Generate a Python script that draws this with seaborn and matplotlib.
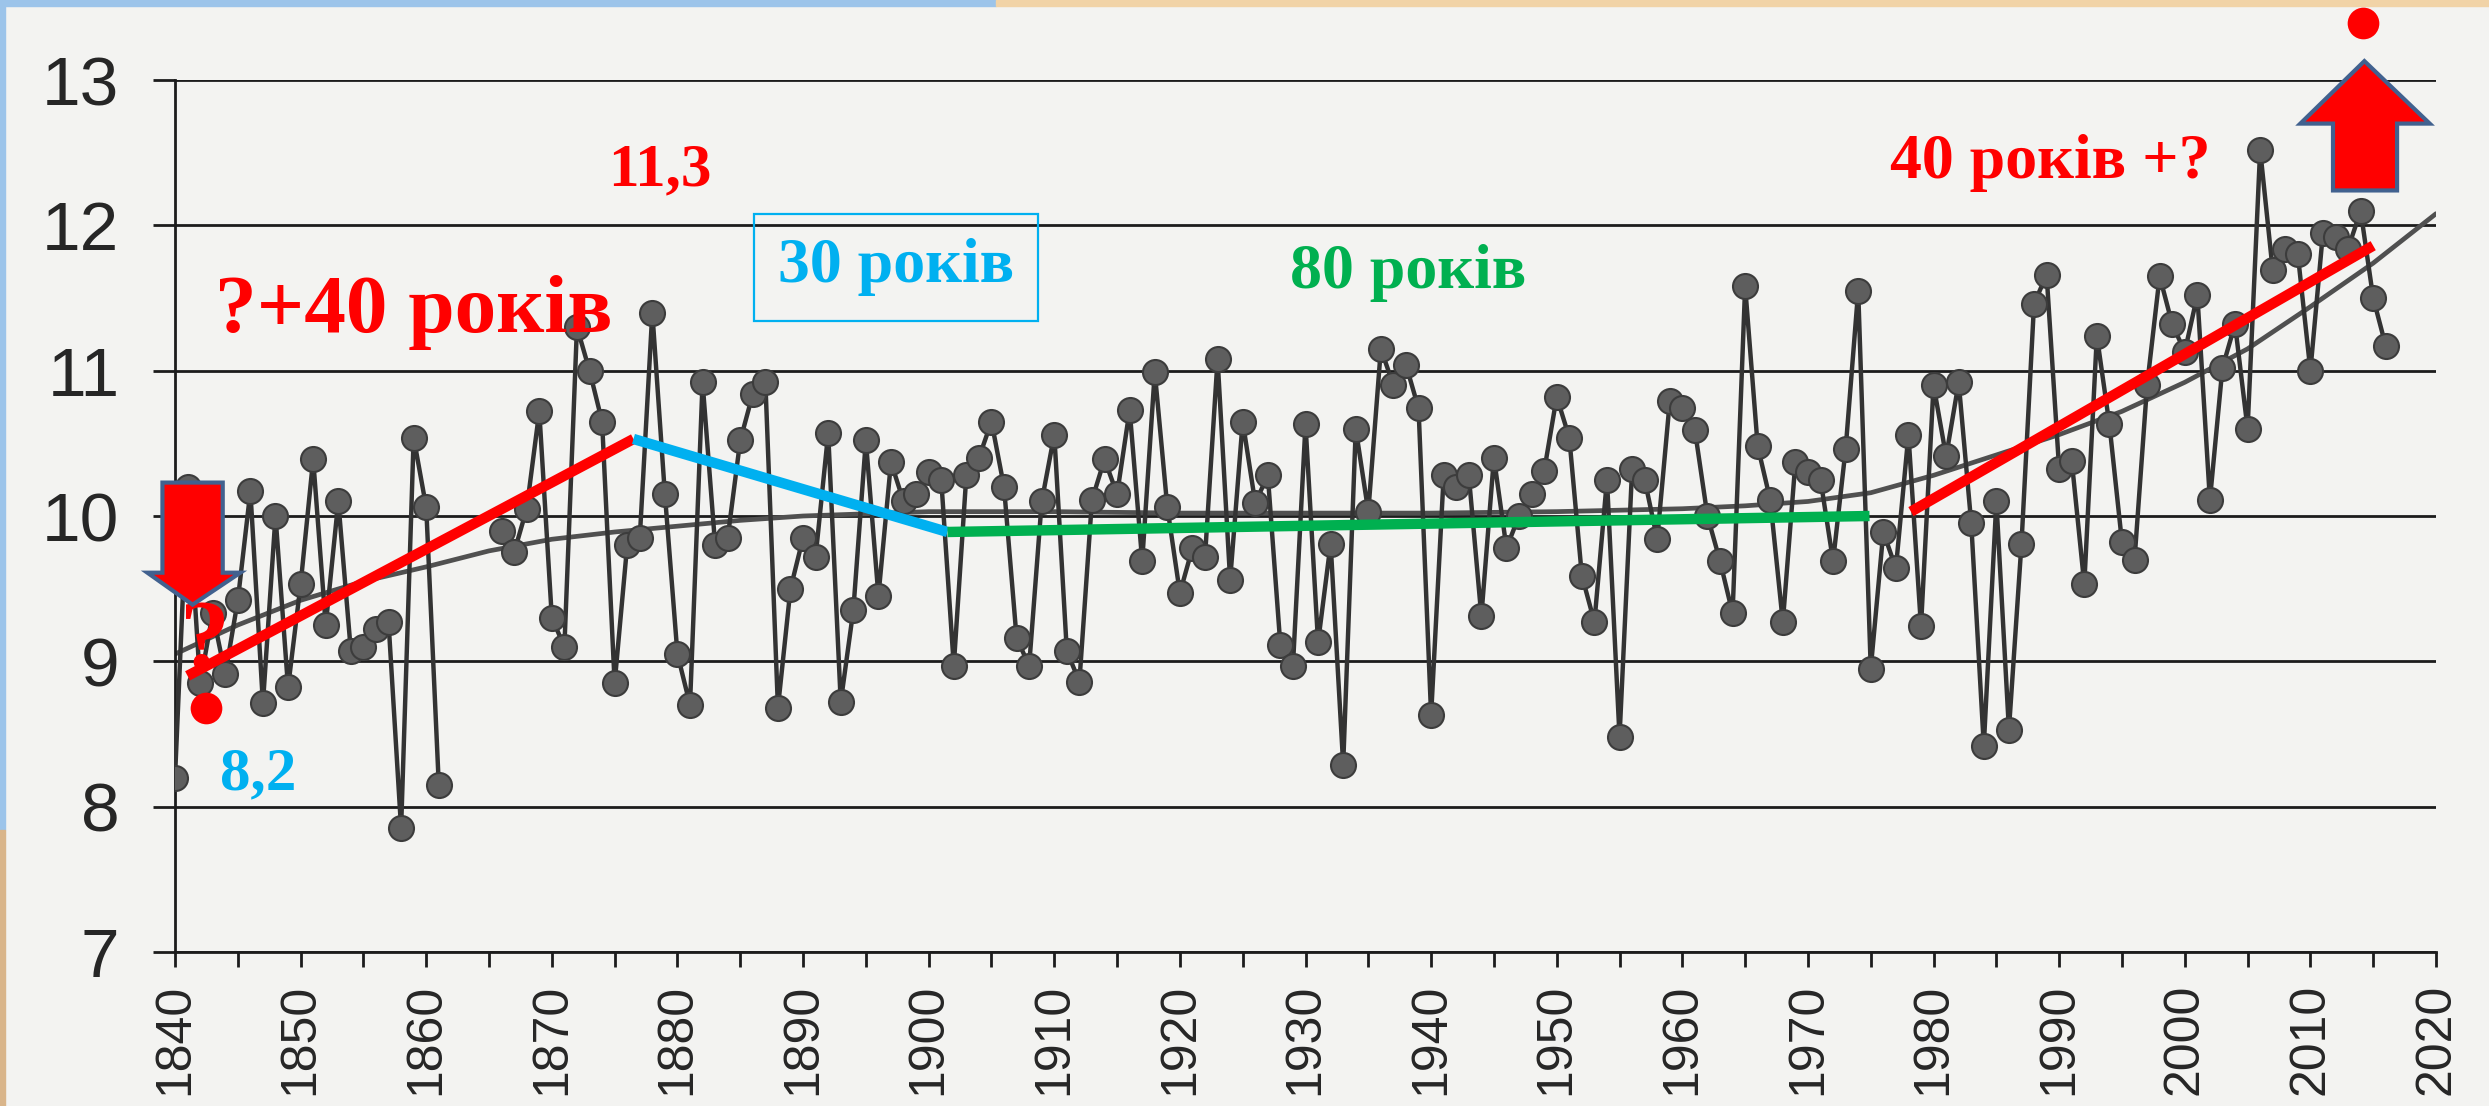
import numpy as np
import pandas as pd
import matplotlib
matplotlib.use("Agg")
import matplotlib.pyplot as plt
from matplotlib.patches import Polygon, Rectangle
import seaborn as sns

# ---------------- data ----------------
years = list(range(1840, 2017))
nan = float("nan")
temps = [
    8.20, 10.20, 8.85, 9.33, 8.91, 9.42, 10.17, 8.71, 10.00, 8.82,      # 1840s
    9.53, 10.39, 9.25, 10.10, 9.07, 9.10, 9.22, 9.27, 7.85, 10.54,     # 1850s
    10.06, 8.15, nan, nan, nan, nan, 9.90, 9.75, 10.05, 10.72,         # 1860s
    9.30, 9.10, 11.30, 11.00, 10.65, 8.85, 9.80, 9.85, 11.40, 10.15,   # 1870s
    9.05, 8.70, 10.92, 9.80, 9.85, 10.52, 10.84, 10.92, 8.68, 9.50,    # 1880s
    9.85, 9.72, 10.57, 8.72, 9.35, 10.52, 9.45, 10.37, 10.10, 10.15,   # 1890s
    10.30, 10.25, 8.97, 10.28, 10.40, 10.65, 10.20, 9.16, 8.97, 10.10, # 1900s
    10.56, 9.07, 8.86, 10.11, 10.39, 10.15, 10.73, 9.69, 10.99, 10.06, # 1910s
    9.47, 9.78, 9.72, 11.08, 9.56, 10.65, 10.09, 10.28, 9.11, 8.97,    # 1920s
    10.63, 9.13, 9.81, 8.29, 10.60, 10.03, 11.15, 10.90, 11.04, 10.74, # 1930s
    8.63, 10.28, 10.20, 10.28, 9.31, 10.40, 9.78, 10.00, 10.15, 10.31, # 1940s
    10.82, 10.54, 9.59, 9.27, 10.25, 8.48, 10.32, 10.25, 9.84, 10.79,  # 1950s
    10.74, 10.59, 10.00, 9.69, 9.33, 11.58, 10.48, 10.11, 9.27, 10.37, # 1960s
    10.30, 10.25, 9.69, 10.46, 11.55, 8.95, 9.89, 9.64, 10.56, 9.24,   # 1970s
    10.90, 10.41, 10.92, 9.95, 8.42, 10.10, 8.53, 9.81, 11.46, 11.66,  # 1980s
    10.32, 10.38, 9.53, 11.24, 10.63, 9.82, 9.70, 10.90, 11.65, 11.32, # 1990s
    11.13, 11.52, 10.11, 11.02, 11.32, 10.60, 12.52, 11.69, 11.84, 11.80, # 2000s
    11.00, 11.95, 11.92, 11.84, 12.10, 11.50, 11.17,                   # 2010s
]
gap_start = 1862  # record is interrupted 1862-1865

trend_years = [1840, 1845, 1850, 1855, 1860, 1865, 1870, 1875, 1880, 1885,
               1890, 1900, 1910, 1920, 1930, 1940, 1950, 1960, 1965, 1970,
               1975, 1980, 1985, 1990, 1995, 2000, 2005, 2010, 2015, 2020]
trend_vals = [9.05, 9.25, 9.42, 9.55, 9.65, 9.76, 9.84, 9.89, 9.93, 9.97,
              10.00, 10.03, 10.03, 10.02, 10.02, 10.02, 10.03, 10.05, 10.07, 10.10,
              10.16, 10.28, 10.42, 10.56, 10.72, 10.92, 11.15, 11.44, 11.74, 12.08]

# hand-drawn period segments
seg1_x, seg1_y = [1841.0, 1876.5], [8.90, 10.53]      # red
seg2_x, seg2_y = [1876.5, 1901.5], [10.53, 9.89]      # blue
seg3_x, seg3_y = [1901.5, 1974.9], [9.89, 10.00]      # green
seg4_x, seg4_y = [1978.2, 2015.0], [10.03, 11.86]     # red

yticks = [7, 8, 9, 10, 11, 12, 13]
xticks = list(range(1840, 2021, 10))

# ---------------- style ----------------
sns.set_theme(style="white")
plt.rcParams["font.family"] = ["Liberation Sans", "DejaVu Sans"]

W, H = 2489, 1106
fig = plt.figure(figsize=(W / 100, H / 100), dpi=100)
paper = "#f3f3f1"
fig.patch.set_facecolor(paper)

# thin coloured frame strips of the slide
fig.add_artist(Rectangle((0, 1 - 6 / H), 0.40, 6 / H, transform=fig.transFigure,
                         color="#9cc4ea", zorder=0))
fig.add_artist(Rectangle((0.40, 1 - 6 / H), 0.60, 6 / H, transform=fig.transFigure,
                         color="#f1d3a7", zorder=0))
fig.add_artist(Rectangle((0, 0.25), 5 / W, 0.75, transform=fig.transFigure,
                         color="#9cc4ea", zorder=0))
fig.add_artist(Rectangle((0, 0), 5 / W, 0.25, transform=fig.transFigure,
                         color="#d9b58a", zorder=0))

ax = fig.add_axes([175 / W, 1 - 952 / H, (2436 - 175) / W, (952 - 80) / H])
ax.set_facecolor(paper)

df = pd.DataFrame({"year": years, "temp": temps})
df["segment"] = np.where(df["year"] < gap_start, 0, 1)
df = df.dropna()

# trend curve
sns.lineplot(x=trend_years, y=trend_vals, color="#505050", lw=3.4, ax=ax, zorder=2)

# annual values
sns.lineplot(data=df, x="year", y="temp", units="segment", estimator=None,
             color="#333333", lw=3.2, marker="o", markersize=18,
             markerfacecolor="#5e5e5e", markeredgecolor="#3c3c3c",
             markeredgewidth=1.5, ax=ax, zorder=3)

# period segments
ax.plot(seg1_x, seg1_y, color="#ff0000", lw=7.5, solid_capstyle="butt", zorder=5)
ax.plot(seg2_x, seg2_y, color="#00b0f0", lw=7.5, solid_capstyle="butt", zorder=5)
ax.plot(seg3_x, seg3_y, color="#00b050", lw=7.5, solid_capstyle="butt", zorder=5)
ax.plot(seg4_x, seg4_y, color="#ff0000", lw=7.5, solid_capstyle="butt", zorder=5)

ax.set_xlim(1840, 2020)
ax.set_ylim(7, 13)
ax.set_xticks(xticks)
ax.set_xticks(list(range(1845, 2020, 10)), minor=True)
ax.set_yticks(yticks)
ax.set_yticklabels([str(v) for v in yticks])
ax.set_xticklabels([str(v) for v in xticks], rotation=90)
ax.set_xlabel("")
ax.set_ylabel("")

ax.yaxis.grid(True, color="#1c1c1c", lw=2.0)
ax.xaxis.grid(False)
ax.set_axisbelow(True)
for s in ["top", "right"]:
    ax.spines[s].set_visible(False)
for s in ["left", "bottom"]:
    ax.spines[s].set_color("#1c1c1c")
    ax.spines[s].set_linewidth(2.0)

ax.tick_params(axis="y", which="major", direction="out", length=16, width=2,
               color="#1c1c1c", pad=24, labelsize=50, labelcolor="#262626", left=True)
ax.tick_params(axis="x", which="both", direction="out", length=11, width=2,
               color="#1c1c1c", pad=12, labelsize=36, labelcolor="#262626", bottom=True)

# ---------------- annotations ----------------
serif = dict(family="Liberation Serif", weight="bold")
ax.text(1859.0, 11.40, "?+40 років", color="#ff0000", fontsize=60,
        ha="center", va="center", zorder=6, **serif)
ax.text(1878.6, 12.38, "11,3", color="#ff0000", fontsize=44,
        ha="center", va="center", zorder=6, **serif)
ax.text(1897.4, 11.71, "30 років", color="#00b0f0", fontsize=46,
        ha="center", va="center", zorder=6,
        bbox=dict(boxstyle="square,pad=0.38", fc="none", ec="#00b0f0", lw=1.6), **serif)
ax.text(1938.2, 11.67, "80 років", color="#00b050", fontsize=46,
        ha="center", va="center", zorder=6, **serif)
ax.text(1989.3, 12.43, "40 років +?", color="#ff0000", fontsize=46,
        ha="center", va="center", zorder=6, **serif)
ax.text(1846.6, 8.22, "8,2", color="#00b0f0", fontsize=44,
        ha="center", va="center", zorder=6, **serif)
ax.text(1842.4, 9.12, "?", color="#ff0000", fontsize=72,
        ha="center", va="center", zorder=6, **serif)

# block arrows
down_arrow = [(1839.0, 10.23), (1843.8, 10.23), (1843.8, 9.61), (1845.2, 9.61),
              (1841.4, 9.39), (1837.8, 9.61), (1839.0, 9.61)]
up_arrow = [(2011.8, 12.24), (2016.9, 12.24), (2016.9, 12.70), (2019.5, 12.70),
            (2014.3, 13.13), (2009.2, 12.70), (2011.8, 12.70)]
for pts in (down_arrow, up_arrow):
    ax.add_patch(Polygon(pts, closed=True, fc="#ff0000", ec="#41618f", lw=3,
                         zorder=7, clip_on=False))

dot_x = [1842.5, 2014.2]
dot_y = [8.68, 13.39]
ax.scatter(dot_x, dot_y, s=520, color="#ff0000", zorder=7, clip_on=False, linewidths=0)

fig.savefig("out.png", dpi=100, facecolor=fig.get_facecolor())
